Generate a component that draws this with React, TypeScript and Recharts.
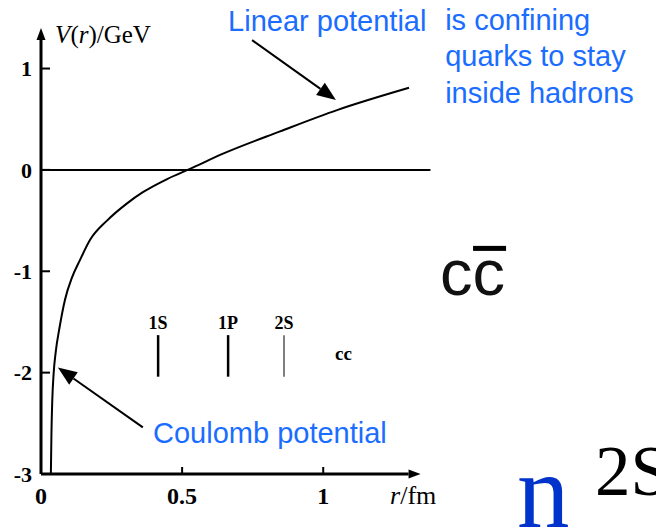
import { LineChart, Line, XAxis, YAxis, ReferenceLine, ReferenceDot } from "recharts";

// potential curve V(r)
const rValues = [0.035, 0.037, 0.04, 0.045, 0.052, 0.066, 0.085, 0.11, 0.138, 0.174, 0.234, 0.305, 0.361, 0.447, 0.528, 0.645, 0.847, 1.049, 1.304];
const vValues = [-3.0, -2.6, -2.27, -2.0, -1.8, -1.55, -1.28, -1.06, -0.89, -0.69, -0.5, -0.33, -0.22, -0.09, 0.01, 0.16, 0.38, 0.59, 0.81];

// charmonium levels
const levelNames = ["1S", "1P", "2S"];
const levelR = [0.415, 0.663, 0.861];
const levelTop = -1.63;
const levelBottom = -2.04;

const xTicks = [0, 0.5, 1];
const yTicks = [-3, -2, -1, 0, 1];

const data = rValues.map((r, i) => ({ r, v: vValues[i] }));

const SERIF = "'Liberation Serif', 'DejaVu Serif', serif";
const SANS = "'Liberation Sans', Arial, sans-serif";
const BLUE = "#1a6dff";

const arrow = (head: number, width: number, strokeWidth: number) => (p: any) => {
  const { x1, y1, x2, y2 } = p;
  const a = Math.atan2(y2 - y1, x2 - x1);
  const bx = x2 - head * Math.cos(a);
  const by = y2 - head * Math.sin(a);
  const nx = (-Math.sin(a) * width) / 2;
  const ny = (Math.cos(a) * width) / 2;
  return (
    <g>
      <line x1={x1} y1={y1} x2={bx} y2={by} stroke="#000" strokeWidth={strokeWidth} />
      <polygon points={`${x2},${y2} ${bx + nx},${by + ny} ${bx - nx},${by - ny}`} fill="#000" />
    </g>
  );
};

const text = (content: any, style: any) => (p: any) => (
  <text x={p.cx} y={p.cy} {...style}>
    {content}
  </text>
);

export default function App() {
  return (
    <div style={{ position: "absolute", left: 0, top: 0, background: "#fff" }}>
      <LineChart width={656} height={532} data={data} margin={{ top: 29, right: 234, bottom: 0, left: 0 }}>
        <XAxis
          type="number"
          dataKey="r"
          domain={[0, 1.35]}
          allowDataOverflow
          ticks={xTicks}
          height={58}
          axisLine={false}
          tickSize={-7}
          tickMargin={20}
          tickLine={{ stroke: "#000", strokeWidth: 2 }}
          tick={{ fill: "#000", fontFamily: SERIF, fontSize: 24, fontWeight: "bold" }}
        />
        <YAxis
          type="number"
          domain={[-3, 1.39]}
          allowDataOverflow
          ticks={yTicks}
          width={41}
          axisLine={false}
          tickSize={-9}
          tickMargin={18}
          tickLine={{ stroke: "#000", strokeWidth: 2 }}
          tick={{ fill: "#000", fontFamily: SERIF, fontSize: 22, fontWeight: "bold" }}
        />
        {/* zero line */}
        <ReferenceLine segment={[{ x: 0, y: 0 }, { x: 1.38, y: 0 }]} ifOverflow="visible" stroke="#000" strokeWidth={2} />
        {/* axes with arrow heads */}
        <ReferenceLine segment={[{ x: 0, y: -3 }, { x: 1.345, y: -3 }]} ifOverflow="visible" shape={arrow(12, 9, 3)} />
        <ReferenceLine segment={[{ x: 0, y: -3 }, { x: 0, y: 1.4 }]} ifOverflow="visible" shape={arrow(12, 9, 3)} />

        <Line type="monotone" dataKey="v" stroke="#000" strokeWidth={2} dot={false} isAnimationActive={false} />

        {levelR.map((r, i) => (
          <ReferenceLine
            key={levelNames[i]}
            segment={[{ x: r, y: levelTop }, { x: r, y: levelBottom }]}
            ifOverflow="visible"
            stroke={i === 2 ? "#555" : "#000"}
            strokeWidth={i === 2 ? 1.5 : 2.5}
          />
        ))}
        {levelR.map((r, i) => (
          <ReferenceDot
            key={"l" + levelNames[i]}
            x={r}
            y={-1.568}
            ifOverflow="visible"
            shape={text(levelNames[i], { fontFamily: SERIF, fontSize: 18, fontWeight: "bold", textAnchor: "middle", fill: "#000" })}
          />
        ))}
        <ReferenceDot x={1.042} y={-1.874} ifOverflow="visible" shape={text("cc", { fontFamily: SERIF, fontSize: 19, fontWeight: "bold", fill: "#000" })} />

        {/* axis titles */}
        <ReferenceDot
          x={0.05}
          y={1.252}
          ifOverflow="visible"
          shape={text(
            <>
              <tspan fontStyle="italic">V</tspan>(<tspan fontStyle="italic">r</tspan>)/GeV
            </>,
            { fontFamily: SERIF, fontSize: 25, fill: "#000" }
          )}
        />
        <ReferenceDot
          x={1.237}
          y={-3.3}
          ifOverflow="visible"
          shape={text(
            <>
              <tspan fontStyle="italic">r</tspan>/fm
            </>,
            { fontFamily: SERIF, fontSize: 26, fill: "#000" }
          )}
        />

        {/* annotations */}
        <ReferenceLine segment={[{ x: 0.748, y: 1.28 }, { x: 1.045, y: 0.69 }]} ifOverflow="visible" shape={arrow(19, 15, 2)} />
        <ReferenceLine segment={[{ x: 0.361, y: -2.54 }, { x: 0.06, y: -1.95 }]} ifOverflow="visible" shape={arrow(19, 15, 2)} />
        <ReferenceDot x={0.663} y={1.371} ifOverflow="visible" shape={text("Linear potential", { fontFamily: SANS, fontSize: 29, fill: BLUE })} />
        <ReferenceDot
          x={1.432}
          y={1.381}
          ifOverflow="visible"
          shape={(p: any) => (
            <text x={p.cx} y={p.cy} fontFamily={SANS} fontSize={29} fill={BLUE}>
              <tspan x={p.cx}>is confining</tspan>
              <tspan x={p.cx} dy={36.5}>quarks to stay</tspan>
              <tspan x={p.cx} dy={36.5}>inside hadrons</tspan>
            </text>
          )}
        />
        <ReferenceDot x={0.397} y={-2.692} ifOverflow="visible" shape={text("Coulomb potential", { fontFamily: SANS, fontSize: 29, fill: BLUE })} />

        {/* slide decorations */}
        <ReferenceDot
          x={1.414}
          y={-1.233}
          ifOverflow="visible"
          shape={(p: any) => (
            <g>
              <text x={p.cx} y={p.cy} fontFamily={SANS} fontSize={65} fill="#111">
                cc
              </text>
              <rect x={p.cx + 33} y={p.cy - 49} width={33} height={5} fill="#000" />
            </g>
          )}
        />
        <ReferenceDot x={1.687} y={-3.521} ifOverflow="visible" shape={text("n", { fontFamily: SERIF, fontSize: 105, fill: "#0033cc" })} />
        <ReferenceDot x={1.963} y={-3.205} ifOverflow="visible" shape={text("2S", { fontFamily: SERIF, fontSize: 71, fill: "#000" })} />
      </LineChart>
    </div>
  );
}
